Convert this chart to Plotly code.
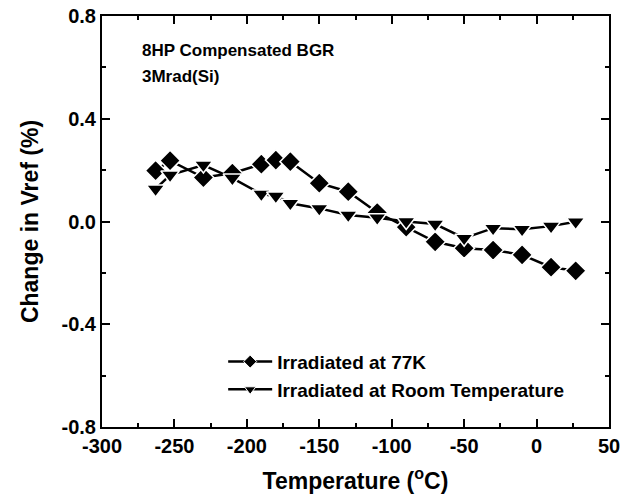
import plotly.graph_objects as go

temps = [-263, -253, -230, -210, -190, -180, -170, -150, -130, -110, -90, -70, -50, -30, -10, 10, 27]
irr_77k = [0.198, 0.237, 0.171, 0.188, 0.223, 0.239, 0.233, 0.149, 0.116, 0.035, -0.022, -0.079, -0.104, -0.111, -0.130, -0.178, -0.192]
irr_room = [0.127, 0.181, 0.220, 0.169, 0.107, 0.099, 0.071, 0.051, 0.025, 0.015, 0.0, -0.010, -0.065, -0.026, -0.030, -0.018, -0.001]

x_ticks = [-300, -250, -200, -150, -100, -50, 0, 50]
x_ticktext = ["-300", "-250", "-200", "-150", "-100", "-50", "0", "50"]
y_ticks = [-0.8, -0.4, 0.0, 0.4, 0.8]
y_ticktext = ["-0.8", "-0.4", "0.0", "0.4", "0.8"]

series_names = ["Irradiated at 77K", "Irradiated at Room Temperature"]
annotation_lines = ["8HP Compensated BGR", "3Mrad(Si)"]

FONT = "Liberation Sans, Arial, sans-serif"

def b(s):
    return "<b>" + s + "</b>"

fig = go.Figure()
for y, sym, sz in [(irr_77k, "diamond", 16), (irr_room, "triangle-down", 16)]:
    fig.add_trace(go.Scatter(
        x=temps, y=y, mode="lines+markers", showlegend=False,
        line=dict(color="black", width=2.5),
        marker=dict(symbol=sym, size=sz, color="black", line=dict(color="white", width=1.5)),
    ))
for name, sym in zip(series_names, ["diamond", "triangle-down"]):
    fig.add_trace(go.Scatter(
        x=[None], y=[None], mode="lines+markers", name=b(name),
        line=dict(color="black", width=2.5),
        marker=dict(symbol=sym, size=10, color="black", line=dict(color="white", width=1)),
    ))

axis_common = dict(
    showgrid=False, zeroline=False, showline=True, linecolor="black", linewidth=2,
    mirror="ticks", ticks="inside", ticklen=8, tickwidth=2, tickcolor="black",
    tickfont=dict(family=FONT, size=20, color="black"),
    automargin=False,
)
fig.update_xaxes(
    range=[-300, 50], tickvals=x_ticks, ticktext=[b(t) for t in x_ticktext],
    minor=dict(ticks="inside", ticklen=4, tickwidth=2, dtick=25, tick0=-300, tickcolor="black"),
    title=dict(text=b("Temperature (<sup>o</sup>C)"), font=dict(family=FONT, size=23, color="black"), standoff=17),
    **axis_common,
)
fig.update_yaxes(
    range=[-0.8, 0.8], tickvals=y_ticks, ticktext=[b(t) for t in y_ticktext],
    minor=dict(ticks="inside", ticklen=4, tickwidth=2, dtick=0.2, tick0=-0.8, tickcolor="black"),
    title=dict(text=b("Change in Vref (%)"), font=dict(family=FONT, size=23, color="black"), standoff=16),
    **axis_common,
)

for txt, yp in zip(annotation_lines, [0.917, 0.854]):
    fig.add_annotation(
        x=0.075, y=yp, xref="paper", yref="paper", text=b(txt), showarrow=False,
        xanchor="left", yanchor="middle",
        font=dict(family=FONT, size=17, color="black"),
    )

fig.update_layout(
    width=632, height=499,
    margin=dict(l=102, r=23, t=16, b=72),
    paper_bgcolor="white", plot_bgcolor="white",
    legend=dict(
        x=0.239, y=0.205, xanchor="left", yanchor="top",
        bgcolor="rgba(0,0,0,0)", borderwidth=0, itemwidth=44,
        font=dict(family=FONT, size=19, color="black"),
        tracegroupgap=0,
    ),
)

fig.write_html(
    "out.html",
    config={"displayModeBar": False},
    post_script="document.body.style.margin='0';document.body.style.overflow='hidden';",
)
